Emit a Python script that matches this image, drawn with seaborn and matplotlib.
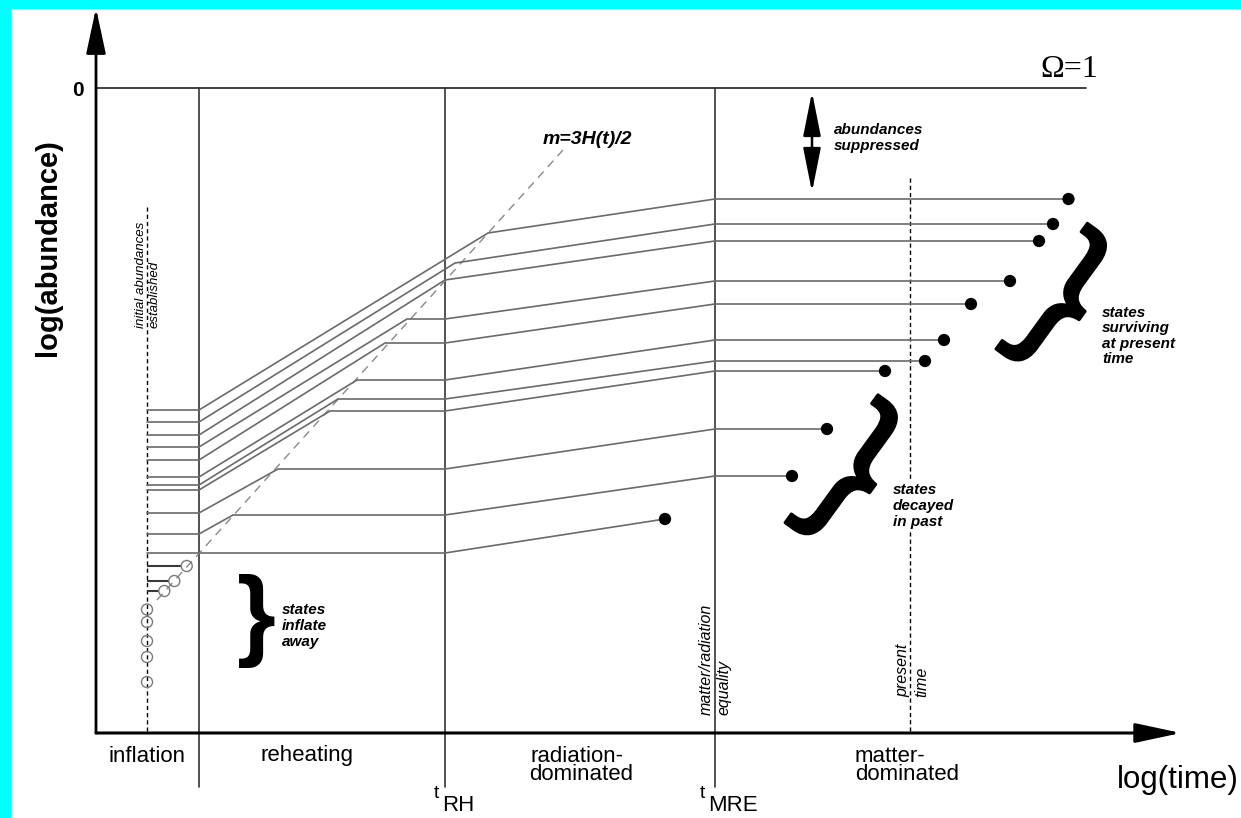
import numpy as np
import pandas as pd
import matplotlib
matplotlib.use("Agg")
import matplotlib.pyplot as plt
import matplotlib.patheffects as pe
import seaborn as sns
from matplotlib.patches import Rectangle

sns.set_theme(style="white")
plt.rcParams["font.family"] = ["Liberation Sans", "DejaVu Sans"]
plt.rcParams["text.color"] = "black"

# ---- epochs on the log(time) axis ----
t_init = 5.1            # initial abundances established
t_end_inflation = 10.3
t_RH = 34.9
t_MRE = 61.9
t_now = 81.4

# ---- surviving / decaying states ----
init_level = [-32.2, -33.4, -34.7, -35.9, -37.2, -38.9, -39.7, -40.2, -42.5, -44.6, -46.5]
cross_time = [39.2, 35.9, 34.9, 31.1, 28.9, 26.1, 24.2, 23.4, 18.2, 13.7, 10.3]
cross_level = [-14.5, -17.5, -19.2, -23.1, -25.5, -29.2, -31.1, -32.3, -38.1, -42.7, -46.5]
final_level = [-11.1, -13.6, -15.3, -19.3, -21.6, -25.2, -27.3, -28.3, -34.1, -38.8, -43.1]
decay_time = [97.25, 95.7, 94.3, 91.4, 87.5, 84.8, 82.9, 78.9, 73.1, 69.6, 56.9]

# ---- states inflated away ----
lost_cross_time = [9.07, 7.83, 6.83]
lost_cross_level = [-47.8, -49.3, -50.3]
lost_init_level = [-52.15, -53.4, -55.3, -56.9, -59.4]

# ---- m = 3H(t)/2 line ----
mass_line_t = [6.1, 46.7]
mass_line_level = [-51.2, -6.2]

# ---- frame ----
axis_floor = -64.5
top_level = 0.0
omega_end = 99.0

rows = []
for i in range(len(init_level)):
    pts = [(t_init, init_level[i]), (t_end_inflation, init_level[i]),
           (cross_time[i], cross_level[i])]
    if cross_time[i] < t_RH:
        pts.append((t_RH, cross_level[i]))
    if decay_time[i] < t_MRE:
        pts.append((decay_time[i], final_level[i]))
    else:
        pts += [(t_MRE, final_level[i]), (decay_time[i], final_level[i])]
    for k, (t, lv) in enumerate(pts):
        rows.append(dict(state=i, order=k, log_t=t, log_abundance=lv))
tracks = pd.DataFrame(rows)

fig = plt.figure(figsize=(12.41, 8.18), dpi=100)
fig.patch.set_facecolor("white")
ax = fig.add_axes([0, 0, 1, 1])
ax.set_xlim(-9.6, 114.5)
ax.set_ylim(-73.0, 8.8)
ax.axis("off")

# cyan frame strips
fig.patches.append(Rectangle((0, 0), 10 / 1241, 1, transform=fig.transFigure,
                             color="#00FFFF", zorder=10))
fig.patches.append(Rectangle((0, 1 - 8 / 818), 1, 8 / 818, transform=fig.transFigure,
                             color="#00FFFF", zorder=10))

# Omega = 1 line and epoch boundaries
ax.plot([0, omega_end], [top_level, top_level], color="#333333", lw=1.3)
for tb in (t_end_inflation, t_RH, t_MRE):
    ax.plot([tb, tb], [top_level, -69.9], color="#333333", lw=1.2)

# dashed markers: initial abundances, present time
ax.plot([t_init, t_init], [-11.9, axis_floor], color="black", lw=1.0, ls=(0, (3, 2.2)))
ax.plot([t_now, t_now], [-9.0, axis_floor], color="black", lw=1.0, ls=(0, (3, 2.2)))

# m = 3H/2
ax.plot(mass_line_t, mass_line_level, color="#8a8a8a", lw=1.0, ls=(0, (6, 4.5)))

# abundance tracks
sns.lineplot(data=tracks, x="log_t", y="log_abundance", units="state",
             estimator=None, sort=False, color="#6a6a6a", linewidth=1.2,
             legend=False, ax=ax)
ax.set_xlabel("")
ax.set_ylabel("")

# decays
sns.scatterplot(x=decay_time, y=final_level, color="black", s=78,
                edgecolor="none", ax=ax, zorder=5)

# inflated-away states
ax.hlines(lost_cross_level, t_init, np.array(lost_cross_time) - 0.55,
          color="#3a3a3a", lw=1.5)
sns.scatterplot(x=lost_cross_time + [t_init] * len(lost_init_level),
                y=lost_cross_level + lost_init_level,
                s=63, facecolor="none", edgecolor="#7a7a7a", linewidth=1.0,
                ax=ax, zorder=5)

# axes arrows
ax.annotate("", xy=(0, 8.0), xytext=(0, axis_floor),
            arrowprops=dict(arrowstyle="-|>,head_length=1.4,head_width=0.3",
                            color="black", lw=2, mutation_scale=20,
                            shrinkA=0, shrinkB=0))
ax.annotate("", xy=(108.5, axis_floor), xytext=(0, axis_floor),
            arrowprops=dict(arrowstyle="-|>,head_length=1.4,head_width=0.3",
                            color="black", lw=2.2, mutation_scale=20,
                            shrinkA=0, shrinkB=0))
ax.annotate("", xy=(71.6, -0.4), xytext=(71.6, -10.4),
            arrowprops=dict(arrowstyle="<|-|>,head_length=1.5,head_width=0.3",
                            color="black", lw=1.8, mutation_scale=18,
                            shrinkA=0, shrinkB=0))

# axis texts
ax.text(-1.8, -0.2, "0", fontsize=15, fontweight="bold", ha="center", va="center")
ax.text(-4.8, -15.95, "log(abundance)", fontsize=21, fontweight="bold",
        rotation=90, ha="center", va="center")
ax.text(94.4, 1.1, "Ω=1", fontsize=23, family="Liberation Serif",
        ha="left", va="baseline")
ax.text(102.1, -69.2, "log(time)", fontsize=22.5, ha="left", va="center")

# epoch names
ep = dict(fontsize=16, va="center")
ax.text(5.15, -66.8, "inflation", ha="center", **ep)
ax.text(21.05, -66.8, "reheating", ha="center", **ep)
ax.text(43.4, -66.8, "radiation-", ha="left", **ep)
ax.text(43.3, -68.7, "dominated", ha="left", **ep)
ax.text(75.9, -66.8, "matter-", ha="left", **ep)
ax.text(75.9, -68.7, "dominated", ha="left", **ep)
ax.text(33.8, -71.0, "t", fontsize=14, ha="left", va="baseline")
ax.text(34.6, -72.3, "RH", fontsize=16, ha="left", va="baseline")
ax.text(60.4, -71.0, "t", fontsize=14, ha="left", va="baseline")
ax.text(61.2, -72.3, "MRE", fontsize=16, ha="left", va="baseline")

# rotated annotations
ax.text(4.5, -24.0, "initial abundances", fontsize=9.5, style="italic",
        rotation=90, ha="center", va="bottom")
ax.text(5.9, -24.0, "established", fontsize=9.5, style="italic",
        rotation=90, ha="center", va="bottom")
ax.text(61.0, -62.7, "matter/radiation", fontsize=11.5, style="italic",
        rotation=90, ha="center", va="bottom")
ax.text(62.8, -62.7, "equality", fontsize=11.5, style="italic",
        rotation=90, ha="center", va="bottom")
ax.text(80.65, -60.9, "present", fontsize=11.5, style="italic",
        rotation=90, ha="center", va="bottom")
ax.text(82.6, -60.9, "time", fontsize=11.5, style="italic",
        rotation=90, ha="center", va="bottom")

# state-group notes
note = dict(fontsize=11, fontweight="bold", style="italic", linespacing=1.15,
            ha="left", va="center")
ax.text(49.1, -5.1, "m=3H(t)/2", fontsize=14, fontweight="bold", style="italic",
        ha="center", va="center")
ax.text(73.8, -5.0, "abundances\nsuppressed", **note)
ax.text(18.6, -53.8, "states\ninflate\naway", **note)
ax.text(79.7, -41.8, "states\ndecayed\nin past",
        bbox=dict(fc="white", ec="none", pad=1.0), **note)
ax.text(100.6, -24.8, "states\nsurviving\nat present\ntime", **note)

# braces
thick = [pe.withStroke(linewidth=2.2, foreground="black")]
ax.text(16.0, -53.3, "}", fontsize=72, fontweight="bold", ha="center", va="center")
ax.text(96.6, -21.3, "}", fontsize=120, rotation=-36, ha="center", va="center",
        path_effects=thick)
ax.text(75.6, -38.6, "}", fontsize=122, rotation=-36, ha="center", va="center",
        path_effects=thick)

fig.savefig("out.png", dpi=100, facecolor="white")
